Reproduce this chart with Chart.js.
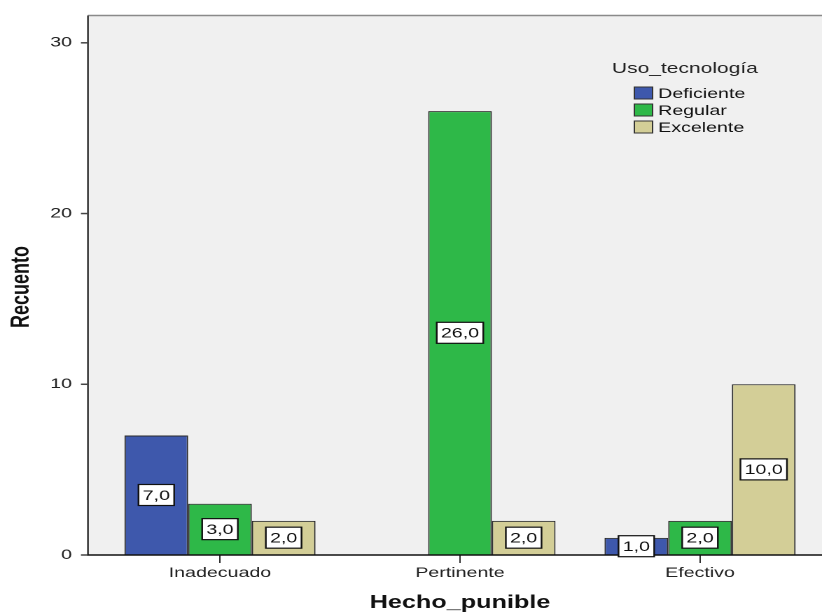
<!DOCTYPE html>
<html>
<head>
<meta charset="utf-8">
<script src="https://cdn.jsdelivr.net/npm/chart.js@4"></script>
<style>
  html, body { margin: 0; padding: 0; background: #fff; overflow: hidden; }
  /* the reference is an SPSS chart stretched sideways, so the whole chart is stretched the same way */
  #wrap { width: 587px; height: 613px; transform: scaleX(1.4003); transform-origin: 0 0; }
</style>
</head>
<body>
<div id="wrap"><canvas id="barChart"></canvas></div>
<script>
const categories = ['Inadecuado', 'Pertinente', 'Efectivo'];
const seriesNames = ['Deficiente', 'Regular', 'Excelente'];
const deficiente = [7, 0, 1];
const regular = [3, 26, 2];
const excelente = [2, 2, 10];
const yTicks = [0, 10, 20, 30];
const seriesColors = ['#3e58ac', '#2eb848', '#d3ce97'];

const FONT = "'Liberation Sans', Arial, sans-serif";
const PLOT_LEFT = 62.8; // grey frame starts a bit left of the category scale

const spssLook = {
  id: 'spssLook',
  beforeDatasetsDraw(chart) {
    const ctx = chart.ctx, a = chart.chartArea;
    ctx.save();
    ctx.fillStyle = '#f0f0f0';
    ctx.fillRect(PLOT_LEFT, a.top, chart.width - PLOT_LEFT, a.bottom - a.top);
    ctx.restore();
  },
  afterDatasetsDraw(chart) {
    const ctx = chart.ctx, a = chart.chartArea, y = chart.scales.y;
    ctx.save();

    // frame
    ctx.strokeStyle = '#8a8a8a';
    ctx.lineWidth = 1.5;
    ctx.beginPath();
    ctx.moveTo(PLOT_LEFT, a.top);
    ctx.lineTo(chart.width, a.top);
    ctx.stroke();

    ctx.strokeStyle = '#454545';
    ctx.lineWidth = 1.4;
    ctx.beginPath();
    ctx.moveTo(PLOT_LEFT, a.top);
    ctx.lineTo(PLOT_LEFT, a.bottom);
    ctx.stroke();

    ctx.strokeStyle = '#111';
    ctx.lineWidth = 1.5;
    ctx.beginPath();
    ctx.moveTo(PLOT_LEFT - 0.7, a.bottom);
    ctx.lineTo(chart.width, a.bottom);
    ctx.stroke();

    // y tick marks
    ctx.strokeStyle = '#444';
    ctx.lineWidth = 1.5;
    y.ticks.forEach(t => {
      const py = y.getPixelForValue(t.value);
      ctx.beginPath();
      ctx.moveTo(PLOT_LEFT - 5, py);
      ctx.lineTo(PLOT_LEFT, py);
      ctx.stroke();
    });

    // value boxes
    ctx.font = '14px ' + FONT;
    ctx.textAlign = 'center';
    ctx.textBaseline = 'middle';
    chart.data.datasets.forEach((ds, i) => {
      chart.getDatasetMeta(i).data.forEach((bar, j) => {
        const v = ds.data[j];
        if (!v) return;
        const txt = v.toFixed(1).replace('.', ',');
        const w = ctx.measureText(txt).width + 6;
        const h = 21;
        const cy = (bar.y + bar.base) / 2;
        ctx.fillStyle = '#fff';
        ctx.fillRect(bar.x - w / 2, cy - h / 2, w, h);
        ctx.strokeStyle = '#111';
        ctx.lineWidth = 1.2;
        ctx.strokeRect(bar.x - w / 2, cy - h / 2, w, h);
        ctx.fillStyle = '#111';
        ctx.fillText(txt, bar.x, cy + 1);
      });
    });

    // legend
    ctx.textAlign = 'left';
    ctx.fillStyle = '#222';
    ctx.font = '15px ' + FONT;
    ctx.fillText('Uso_tecnología', 437, 69);
    ctx.font = '14px ' + FONT;
    chart.data.datasets.forEach((ds, i) => {
      const cy = 93 + i * 17;
      ctx.fillStyle = ds.backgroundColor;
      ctx.fillRect(453, cy - 6, 13, 12);
      ctx.strokeStyle = '#333';
      ctx.lineWidth = 1;
      ctx.strokeRect(453, cy - 6, 13, 12);
      ctx.fillStyle = '#111';
      ctx.fillText(ds.label, 470, cy + 1);
    });

    // axis titles
    ctx.fillStyle = '#111';
    ctx.font = 'bold 18px ' + FONT;
    ctx.textAlign = 'center';
    ctx.textBaseline = 'alphabetic';
    ctx.fillText('Hecho_punible', (a.left + a.right) / 2, 608);

    ctx.translate(15.7, 287);
    ctx.rotate(-Math.PI / 2);
    ctx.textBaseline = 'middle';
    ctx.fillText('Recuento', 0, 0);

    ctx.restore();
  }
};

new Chart(document.getElementById('barChart'), {
  type: 'bar',
  data: {
    labels: categories,
    datasets: [deficiente, regular, excelente].map((vals, i) => ({
      label: seriesNames[i],
      data: vals,
      backgroundColor: seriesColors[i],
      borderColor: '#2a2a2a',
      borderWidth: 1,
      categoryPercentage: 0.796,
      barPercentage: 1.0
    }))
  },
  options: {
    responsive: true,
    maintainAspectRatio: false,
    animation: false,
    devicePixelRatio: 2,
    layout: { padding: { top: 15.5, right: 1.4, left: 0, bottom: 0 } },
    plugins: { legend: { display: false }, tooltip: { enabled: false } },
    scales: {
      x: {
        afterFit(scale) { scale.height = 58; },
        border: { display: false },
        grid: { display: true, drawOnChartArea: false, drawTicks: true, tickLength: 8, offset: false, color: '#333', lineWidth: 1 },
        ticks: { color: '#222', font: { family: FONT, size: 14 }, padding: 1.5, maxRotation: 0 }
      },
      y: {
        min: 0,
        max: 31.6,
        afterFit(scale) { scale.width = 71.4; },
        afterBuildTicks(scale) { scale.ticks = yTicks.map(v => ({ value: v })); },
        border: { display: false },
        // invisible tick length pushes the labels out to where the SPSS axis has them
        grid: { display: true, drawOnChartArea: false, drawTicks: true, tickLength: 20, color: 'rgba(0,0,0,0)' },
        ticks: { color: '#222', font: { family: FONT, size: 14 }, padding: 0 }
      }
    }
  },
  plugins: [spssLook]
});
</script>
</body>
</html>
